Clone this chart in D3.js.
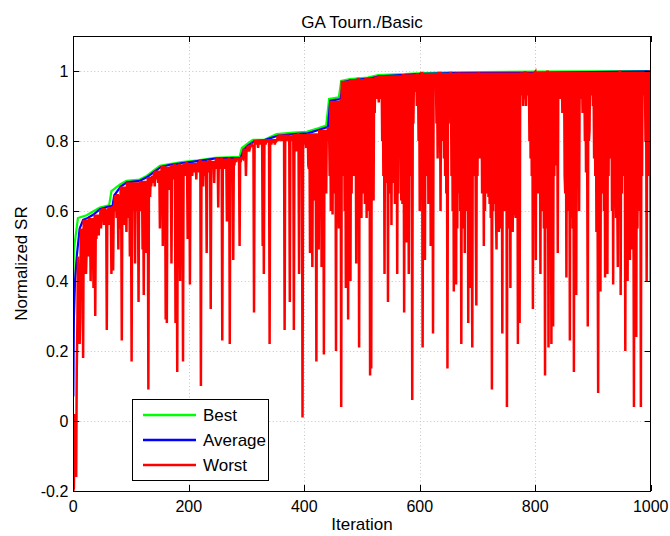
<!DOCTYPE html>
<html>
<head>
<meta charset="utf-8">
<script src="https://cdn.jsdelivr.net/npm/d3@7"></script>
<style>
	body { margin: 0; background: #fff; }
	text { font-family: "Liberation Sans", Arial, Helvetica, sans-serif; fill: #000; }
</style>
</head>
<body>
<div id="vis"></div>
<script>
var xTicks = [0, 200, 400, 600, 800, 1000];
var yTicks = [-0.2, 0, 0.2, 0.4, 0.6, 0.8, 1];
var seriesNames = ['Best', 'Average', 'Worst'];
var seriesColors = ['#00ff00', '#0000ff', '#ff0000'];

// best fitness, [iteration, value]
var bestPts = [[0,0.40],[1,0.49],[8,0.58],[23,0.588],[46,0.61],[62,0.616],[66,0.657],[81,0.676],[92,0.686],
	[115,0.69],[127,0.70],[139,0.715],[150,0.729],[167,0.734],[188,0.74],[216,0.745],[245,0.752],[288,0.755],
	[292,0.78],[300,0.79],[311,0.803],[332,0.804],[352,0.82],[381,0.824],[404,0.826],[424,0.836],[438,0.844],
	[443,0.92],[460,0.925],[464,0.972],[479,0.977],[510,0.981],[528,0.988],[574,0.991],[603,0.994],[661,0.996],
	[800,0.998],[1000,1.0]];

// average fitness
var avgPts = [[0,0.07],[1,0.29],[3,0.40],[6,0.47],[11,0.55],[17,0.575],[25,0.58],[35,0.59],[46,0.605],[60,0.612],
	[68,0.615],[71,0.645],[82,0.67],[93,0.682],[115,0.686],[128,0.697],[140,0.712],[152,0.726],[168,0.732],
	[190,0.737],[218,0.743],[246,0.75],[290,0.752],[295,0.775],[302,0.786],[314,0.80],[330,0.802],[354,0.815],
	[382,0.82],[406,0.822],[426,0.832],[441,0.84],[445,0.915],[463,0.92],[467,0.968],[482,0.973],[512,0.978],
	[530,0.985],[576,0.989],[605,0.992],[662,0.994],[800,0.995],[900,0.997],[1000,0.999]];

// upper edge of the worst curve between its drops (step levels)
var worstTop = [[0,0.07],[1,0.29],[3,0.40],[6,0.47],[11,0.55],[17,0.575],[25,0.58],[35,0.59],[46,0.605],[60,0.612],
	[68,0.615],[71,0.645],[82,0.67],[93,0.682],[115,0.686],[128,0.697],[140,0.712],[152,0.726],[168,0.732],
	[190,0.737],[218,0.743],[246,0.75],[290,0.752],[295,0.775],[302,0.786],[314,0.80],[330,0.802],[354,0.815],
	[382,0.82],[406,0.822],[426,0.832],[441,0.84],[445,0.915],[463,0.92],[465,0.972],[479,0.977],[510,0.981],
	[528,0.988],[574,0.991],[603,0.994],[661,0.996],[800,0.998],[1000,1.0]];

// worst fitness where it drops below that edge
var worstPts = [[0,-0.2],[1,-0.19],[2,-0.05],[3,0.02],[4,-0.13],[5,-0.16],[6,0.15],[7,0.27],[9,0.35],[10,0.45],
	[11,0.22],[12,0.30],[14,0.40],[15,0.5],[17,0.18],[19,0.45],[20,0.52],[22,0.42],[23,0.48],[25,0.5],[26,0.47],
	[28,0.52],[30,0.40],[32,0.44],[34,0.52],[35,0.38],[36,0.5],[38,0.30],[40,0.52],[42,0.55],[44,0.53],[46,0.56],
	[48,0.55],[50,0.57],[53,0.56],[56,0.58],[58,0.26],[60,0.59],
	[62,0.56],[64,0.6],[66,0.42],[67,0.55],[69,0.43],[71,0.6],[73,0.62],[75,0.58],[78,0.49],[80,0.62],[81,0.55],
	[83,0.6],[84,0.23],[86,0.56],[88,0.6],[89,0.56],[91,0.63],[92,0.54],[94,0.62],[96,0.58],[98,0.47],[100,0.6],
	[101,0.17],[103,0.62],[105,0.6],[107,0.45],[109,0.62],[111,0.6],[113,0.34],[115,0.64],[117,0.60],[118,0.62],
	[120,0.49],[122,0.36],[124,0.62],[126,0.48],[128,0.64],[130,0.09],[132,0.66],[133,0.64],[135,0.67],[138,0.68],
	[141,0.67],[144,0.69],[147,0.68],[150,0.55],[152,0.68],[155,0.50],[157,0.70],[160,0.29],
	[162,0.28],[164,0.70],[166,0.66],[168,0.70],[170,0.45],[172,0.69],[174,0.71],[177,0.28],[179,0.70],[180,0.14],
	[182,0.70],[185,0.40],[187,0.71],[188,0.69],[190,0.17],[192,0.72],[193,0.73],[195,0.70],[198,0.52],[200,0.71],
	[202,0.39],[204,0.72],[206,0.70],[208,0.72],[210,0.71],[212,0.73],[213,0.69],[215,0.73],[218,0.71],[221,0.10],
	[223,0.72],[225,0.67],[227,0.72],[229,0.70],[231,0.48],[233,0.72],[235,0.71],[238,0.32],[240,0.72],[242,0.73],
	[244,0.68],[246,0.73],[248,0.72],[251,0.61],[253,0.73],[255,0.72],[258,0.23],[260,0.73],[262,0.72],[264,0.73],
	[266,0.57],[268,0.72],[271,0.22],[273,0.73],[275,0.72],[277,0.46],[279,0.73],[282,0.74],[285,0.75],[288,0.50],
	[290,0.74],[294,0.75],[299,0.70],[303,0.77],[306,0.78],[309,0.79],[313,0.31],[316,0.79],[320,0.78],[324,0.79],
	[328,0.50],[330,0.42],
	[333,0.79],[336,0.80],[340,0.22],[343,0.79],[346,0.80],[349,0.79],[352,0.80],[355,0.80],[358,0.81],[361,0.80],
	[364,0.81],[366,0.26],[369,0.80],[372,0.81],[375,0.34],[377,0.80],[379,0.81],[382,0.26],[384,0.80],[386,0.77],
	[388,0.81],[391,0.42],[393,0.80],[395,0.81],[397,0.01],[399,0.80],[401,0.79],[403,0.78],[405,0.80],[407,0.73],
	[408,0.72],[410,0.48],[412,0.70],[414,0.44],[416,0.68],[418,0.63],[420,0.70],[421,0.17],[423,0.65],[425,0.49],
	[427,0.62],[428,0.70],[430,0.44],[432,0.66],[434,0.19],[436,0.70],[438,0.65],[440,0.80],[442,0.82],[444,0.70],
	[446,0.60],[447,0.85],[449,0.59],[451,0.75],[453,0.65],[455,0.20],[457,0.80],[459,0.70],[460,0.55],[462,0.85],
	[464,0.04],[466,0.70],[468,0.80],[470,0.60],[472,0.38],[474,0.70],[476,0.29],[478,0.75],[480,0.40],[482,0.65],
	[484,0.80],[486,0.70],[488,0.73],[490,0.45],[492,0.70],[495,0.21],[497,0.75],
	[499,0.58],[501,0.70],[503,0.65],[505,0.62],[508,0.58],[510,0.70],[512,0.60],[514,0.13],[516,0.15],[518,0.75],
	[520,0.63],[522,0.88],[525,0.92],[527,0.93],[529,0.91],[531,0.94],[533,0.92],[535,0.80],[537,0.70],[539,0.42],
	[541,0.72],[543,0.68],[545,0.34],[547,0.70],[549,0.65],[551,0.56],[553,0.72],[555,0.68],[557,0.62],[559,0.70],
	[561,0.42],[563,0.65],[565,0.93],[566,0.75],[568,0.63],[570,0.62],[573,0.31],[575,0.70],[577,0.51],[579,0.66],
	[581,0.42],[583,0.70],[585,0.75],[587,0.06],[589,0.85],[591,0.94],[593,0.95],[595,0.90],[598,0.80],[600,0.60],
	[602,0.65],[605,0.21],[607,0.70],[609,0.46],[611,0.78],[613,0.70],[615,0.62],[617,0.80],[619,0.50],[621,0.72],
	[623,0.25],[625,0.98],[627,0.96],[629,0.85],[631,0.75],[633,0.80],[636,0.60],[638,0.92],[640,0.80],[642,0.75],
	[644,0.70],[646,0.65],[648,0.15],[650,0.85],[652,0.96],[655,0.70],[657,0.60],[659,0.37],
	[661,0.60],[663,0.39],[665,0.55],[667,0.65],[668,0.92],[670,0.60],[672,0.22],[674,0.55],[676,0.65],[678,0.48],
	[680,0.60],[682,0.70],[684,0.28],[686,0.55],[688,0.38],[690,0.60],[691,0.21],[693,0.90],[695,0.70],[697,0.60],
	[698,0.33],[700,0.70],[702,0.97],[704,0.75],[706,0.80],[708,0.65],[710,0.87],[711,0.50],[713,0.60],[715,0.70],
	[717,0.65],[719,0.64],[721,0.62],[723,0.58],[725,0.09],[727,0.60],[729,0.62],[730,0.68],[732,0.60],[733,0.49],
	[735,0.58],[737,0.54],[739,0.62],[741,0.55],[743,0.25],[745,0.65],[747,0.60],[749,0.62],[751,0.04],[753,0.60],
	[755,0.55],[757,0.38],[759,0.60],[761,0.54],[763,0.70],[765,0.60],[766,0.58],[768,0.75],[770,0.22],[772,0.70],
	[773,0.28],[775,0.93],[777,0.95],[779,0.90],[781,0.92],[784,0.90],[786,0.96],[788,0.93],[790,0.80],[792,0.75],
	[794,0.70],[796,0.32],[798,0.60],[801,0.46],[803,0.70],[805,0.65],[807,0.97],[809,0.42],[811,0.60],[813,0.65],
	[815,0.55],[817,0.13],[819,0.60],
	[820,0.55],[823,0.21],[825,0.50],[826,0.60],[828,0.22],[830,0.45],[831,0.27],[833,0.70],[835,0.90],[837,0.73],
	[839,0.48],[841,0.95],[843,0.92],[845,0.97],[847,0.88],[849,0.90],[851,0.70],[852,0.65],[854,0.41],[856,0.70],
	[858,0.60],[860,0.23],[862,0.65],[863,0.58],[865,0.55],[867,0.14],[869,0.75],[871,0.36],[873,0.80],[874,0.90],
	[876,0.60],[878,0.92],[880,0.95],[882,0.88],[884,0.90],[886,0.80],[888,0.71],[890,0.75],[891,0.27],[893,0.80],
	[894,0.83],[896,0.93],[898,0.97],[900,0.90],[902,0.75],[904,0.70],[906,0.54],[908,0.60],[909,0.08],[911,0.70],
	[913,0.37],[915,0.65],[917,0.76],[919,0.60],[921,0.41],[923,0.68],[925,0.42],[927,0.70],[929,0.87],[931,0.75],
	[933,0.60],[935,0.39],[937,0.92],[939,0.70],[940,0.58],[942,0.65],[943,0.44],[945,0.70],[948,0.36],[950,0.65],
	[952,0.90],[954,0.70],[956,0.20],[958,0.60],[960,0.40],[962,0.55],[964,0.46],[966,0.60],[968,0.49],[970,0.70],
	[971,0.04],[973,0.60],[975,0.24],[977,0.55],[979,0.97],[981,0.60],[983,0.04],[985,0.70],[987,0.93],[989,0.95],
	[991,0.80],[993,0.40],[995,0.90],[997,0.70],[1000,0.40]];

(function() {
	var width = 670,
		height = 536;

	var plot = { left: 73.3, right: 650.7, top: 36, bottom: 491 };

	var svg = d3.select('#vis')
		.append('svg')
		.attr('width', width)
		.attr('height', height);

	var x = d3.scaleLinear().domain([0, 1000]).range([plot.left, plot.right]);
	var y = d3.scaleLinear().domain([-0.2, 1.1]).range([plot.bottom, plot.top]);

	// grid
	var grid = svg.append('g')
		.attr('stroke', '#c4c4c4')
		.attr('stroke-width', 1)
		.attr('stroke-dasharray', '1,2.5');

	grid.selectAll('.vg')
		.data(xTicks.slice(1, -1))
		.enter().append('line')
		.attr('x1', function(d) { return Math.round(x(d)) + 0.5; })
		.attr('x2', function(d) { return Math.round(x(d)) + 0.5; })
		.attr('y1', plot.top)
		.attr('y2', plot.bottom);

	grid.selectAll('.hg')
		.data(yTicks)
		.enter().append('line')
		.attr('x1', plot.left)
		.attr('x2', plot.right)
		.attr('y1', function(d) { return Math.round(y(d)) + 0.5; })
		.attr('y2', function(d) { return Math.round(y(d)) + 0.5; });

	// worst: top level, except where a worst value was read
	var dipMap = {};
	worstPts.forEach(function(d) { dipMap[d[0]] = d[1]; });
	var stepAt = d3.bisector(function(d) { return d[0]; }).right;
	var worst = d3.range(0, 1001).map(function(i) {
		if (dipMap[i] !== undefined) return [i, dipMap[i]];
		return [i, worstTop[Math.max(0, stepAt(worstTop, i) - 1)][1]];
	});

	svg.append('clipPath')
		.attr('id', 'clip')
		.append('rect')
		.attr('x', plot.left)
		.attr('y', plot.top)
		.attr('width', plot.right - plot.left)
		.attr('height', plot.bottom - plot.top);

	var line = d3.line()
		.x(function(d) { return x(d[0]); })
		.y(function(d) { return y(d[1]); });

	var lines = svg.append('g').attr('clip-path', 'url(#clip)');
	[bestPts, avgPts, worst].forEach(function(data, i) {
		lines.append('path')
			.datum(data)
			.attr('fill', 'none')
			.attr('stroke', seriesColors[i])
			.attr('stroke-width', i < 2 ? 2.2 : 2.5)
			.attr('d', line);
	});

	// frame and ticks
	var axes = svg.append('g')
		.attr('stroke', '#000')
		.attr('stroke-width', 1);

	axes.append('rect')
		.attr('x', Math.round(plot.left) + 0.5)
		.attr('y', plot.top + 0.5)
		.attr('width', Math.round(plot.right - plot.left))
		.attr('height', plot.bottom - plot.top)
		.attr('fill', 'none');

	var tl = 6;
	xTicks.forEach(function(t) {
		var px = Math.round(x(t)) + 0.5;
		axes.append('line').attr('x1', px).attr('x2', px).attr('y1', plot.bottom).attr('y2', plot.bottom - tl);
		axes.append('line').attr('x1', px).attr('x2', px).attr('y1', plot.top).attr('y2', plot.top + tl);
	});
	yTicks.forEach(function(t) {
		var py = Math.round(y(t)) + 0.5;
		axes.append('line').attr('x1', plot.left).attr('x2', plot.left + tl).attr('y1', py).attr('y2', py);
		axes.append('line').attr('x1', plot.right).attr('x2', plot.right - tl).attr('y1', py).attr('y2', py);
	});

	svg.selectAll('.xl')
		.data(xTicks)
		.enter().append('text')
		.attr('x', function(d) { return x(d); })
		.attr('y', plot.bottom + 21)
		.attr('text-anchor', 'middle')
		.attr('font-size', 16)
		.text(function(d) { return d; });

	svg.selectAll('.yl')
		.data(yTicks)
		.enter().append('text')
		.attr('x', plot.left - 5)
		.attr('y', function(d) { return y(d); })
		.attr('dy', '0.36em')
		.attr('text-anchor', 'end')
		.attr('font-size', 16)
		.text(function(d) { return d3.format('~g')(d).replace('\u2212', '-'); });

	svg.append('text')
		.attr('x', (plot.left + plot.right) / 2)
		.attr('y', 28)
		.attr('text-anchor', 'middle')
		.attr('font-size', 17)
		.text('GA Tourn./Basic');

	svg.append('text')
		.attr('x', (plot.left + plot.right) / 2)
		.attr('y', 530)
		.attr('text-anchor', 'middle')
		.attr('font-size', 17)
		.text('Iteration');

	svg.append('text')
		.attr('transform', 'translate(27,' + ((plot.top + plot.bottom) / 2) + ') rotate(-90)')
		.attr('text-anchor', 'middle')
		.attr('font-size', 17)
		.text('Normalized SR');

	// legend
	var legend = svg.append('g').attr('transform', 'translate(132,399)');
	legend.append('rect')
		.attr('x', 0.5)
		.attr('y', 0.5)
		.attr('width', 136)
		.attr('height', 81)
		.attr('fill', '#fff')
		.attr('stroke', '#000');

	var item = legend.selectAll('.item')
		.data(seriesNames)
		.enter().append('g')
		.attr('transform', function(d, i) { return 'translate(0,' + (16 + i * 25) + ')'; });

	item.append('line')
		.attr('x1', 11)
		.attr('x2', 64)
		.attr('stroke', function(d, i) { return seriesColors[i]; })
		.attr('stroke-width', 2.5);

	item.append('text')
		.attr('x', 71)
		.attr('dy', '0.36em')
		.attr('font-size', 17)
		.text(function(d) { return d; });
})();
</script>
</body>
</html>
